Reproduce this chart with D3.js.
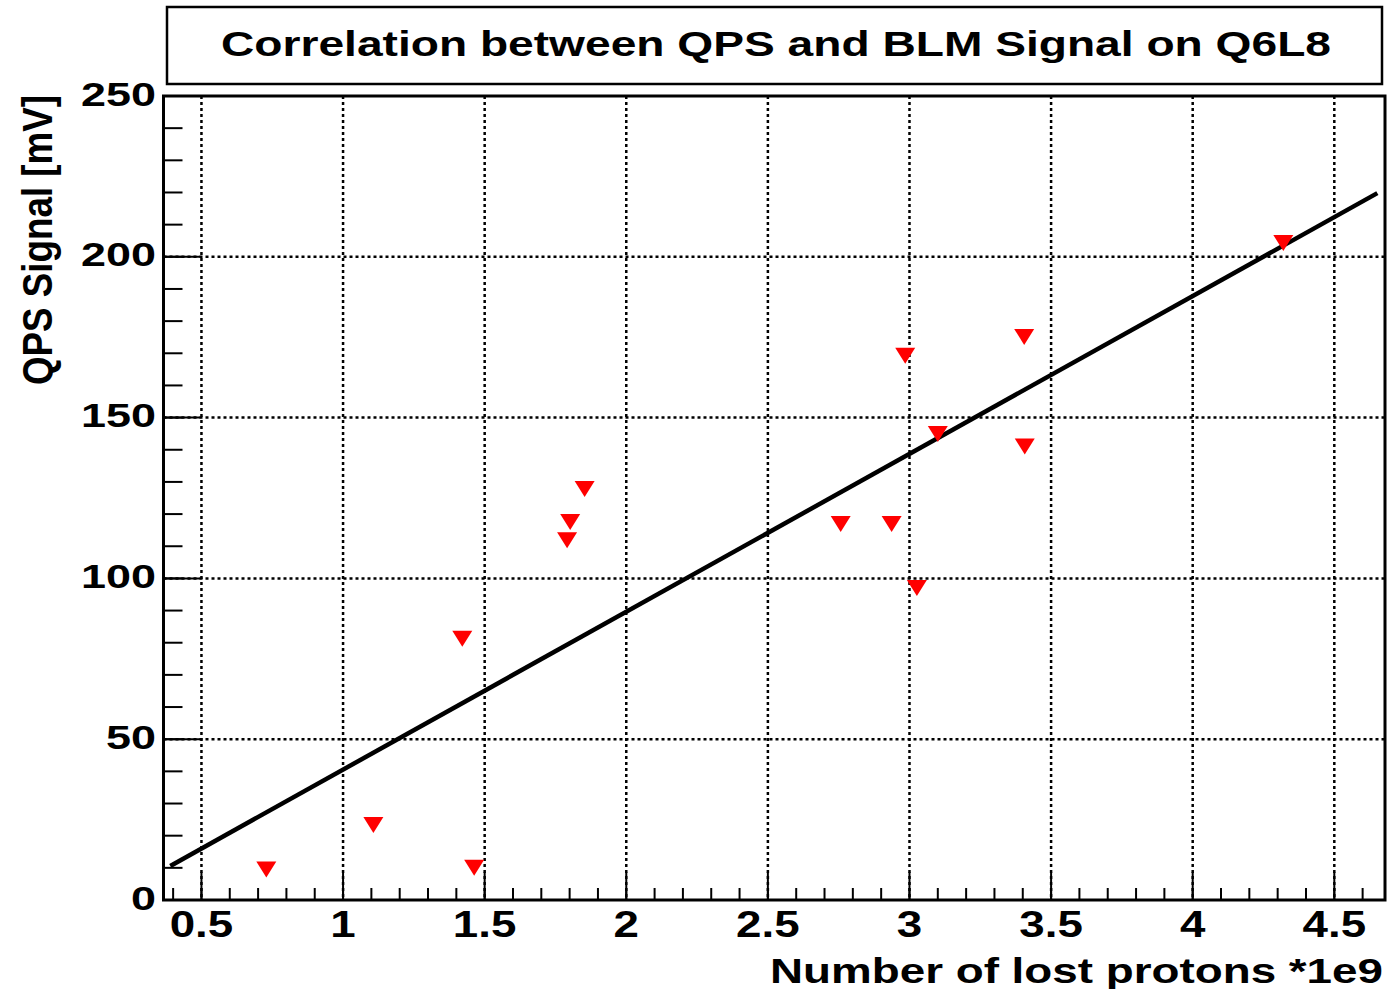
<!DOCTYPE html>
<html>
<head>
<meta charset="utf-8">
<script src="https://cdn.jsdelivr.net/npm/d3@7"></script>
<style>
  html, body { margin: 0; padding: 0; background: #fff; }
  svg { display: block; }
  text { font-family: "Liberation Sans", Arial, Helvetica, sans-serif; font-weight: bold; fill: #000; }
</style>
</head>
<body>
<svg id="chart" width="1388" height="989"></svg>
<script>
// ---- data ----
const lostProtons = [0.729, 1.107, 1.421, 1.463, 1.791, 1.802, 1.853, 2.757, 2.937, 2.985, 3.026, 3.100, 3.405, 3.407, 4.320];
const qpsSignal   = [9.5, 23.3, 81.2, 10.0, 111.9, 117.5, 127.8, 116.9, 116.9, 169.2, 97.0, 144.9, 175.1, 141.0, 204.3];
const fitX = [0.39, 4.652];
const fitY = [10.6, 219.8];
const xTicks = [0.5, 1, 1.5, 2, 2.5, 3, 3.5, 4, 4.5];
const xTickLabels = ["0.5", "1", "1.5", "2", "2.5", "3", "3.5", "4", "4.5"];
const yTicks = [0, 50, 100, 150, 200, 250];
const yTickLabels = ["0", "50", "100", "150", "200", "250"];
const titleText = "Correlation between QPS and BLM Signal on Q6L8";
const xTitle = "Number of lost protons *1e9";
const yTitle = "QPS Signal [mV]";

// ---- layout ----
const L = 163.5, R = 1385, T = 96, B = 900;
const svg = d3.select("#chart");
const x = d3.scaleLinear().domain([0.366, 4.679]).range([L, R]);
const y = d3.scaleLinear().domain([0, 250]).range([B, T]);

// title box
svg.append("rect").attr("x", 167).attr("y", 7).attr("width", 1215).attr("height", 77)
  .attr("fill", "#fff").attr("stroke", "#000").attr("stroke-width", 2.5);
svg.append("text").attr("x", 221).attr("y", 56).attr("font-size", 35)
  .attr("textLength", 1110).attr("lengthAdjust", "spacingAndGlyphs").text(titleText);

// grid
const g = svg.append("g");
const xMinor = d3.range(0.4, 4.65, 0.1).map(v => +v.toFixed(2));
const yMinor = d3.range(0, 251, 10);
g.selectAll(".vgrid").data(xTicks).enter().append("line")
  .attr("x1", d => x(d)).attr("x2", d => x(d)).attr("y1", T).attr("y2", B)
  .attr("stroke", "#000").attr("stroke-width", 2.5).attr("stroke-dasharray", "3,3");
g.selectAll(".hgrid").data(yTicks.filter(d => d > 0 && d < 250)).enter().append("line")
  .attr("x1", L).attr("x2", R).attr("y1", d => y(d)).attr("y2", d => y(d))
  .attr("stroke", "#000").attr("stroke-width", 2.5).attr("stroke-dasharray", "3,3");

// ticks
g.selectAll(".xminor").data(xMinor).enter().append("line")
  .attr("x1", d => x(d)).attr("x2", d => x(d)).attr("y1", B).attr("y2", B - 12)
  .attr("stroke", "#000").attr("stroke-width", 2);
g.selectAll(".xmajor").data(xTicks).enter().append("line")
  .attr("x1", d => x(d)).attr("x2", d => x(d)).attr("y1", B).attr("y2", B - 28)
  .attr("stroke", "#000").attr("stroke-width", 2);
g.selectAll(".yminor").data(yMinor).enter().append("line")
  .attr("x1", L).attr("x2", L + 19).attr("y1", d => y(d)).attr("y2", d => y(d))
  .attr("stroke", "#000").attr("stroke-width", 2);
g.selectAll(".ymajor").data(yTicks).enter().append("line")
  .attr("x1", L).attr("x2", L + 37).attr("y1", d => y(d)).attr("y2", d => y(d))
  .attr("stroke", "#000").attr("stroke-width", 2);

// frame
svg.append("rect").attr("x", L).attr("y", T).attr("width", R - L).attr("height", B - T)
  .attr("fill", "none").attr("stroke", "#000").attr("stroke-width", 3);

// fit line
svg.append("line")
  .attr("x1", x(fitX[0])).attr("y1", y(fitY[0])).attr("x2", x(fitX[1])).attr("y2", y(fitY[1]))
  .attr("stroke", "#000").attr("stroke-width", 4.5);

// markers (down triangles)
svg.selectAll(".pt").data(lostProtons).enter().append("path")
  .attr("d", "M-10,-8L10,-8L0,8Z")
  .attr("transform", (d, i) => `translate(${x(d)},${y(qpsSignal[i])})`)
  .attr("fill", "#ff0000");

// tick labels
function stretched(sel, factor) {
  sel.each(function() {
    const len = this.getComputedTextLength();
    d3.select(this).attr("textLength", len * factor).attr("lengthAdjust", "spacingAndGlyphs");
    this.__len = len * factor;
  });
}
const xl = svg.selectAll(".xl").data(xTicks).enter().append("text")
  .attr("font-size", 36).attr("y", 937).text((d, i) => xTickLabels[i]);
stretched(xl, 1.27);
xl.attr("x", function(d) { return x(d) - this.__len / 2; });

const yl = svg.selectAll(".yl").data(yTicks).enter().append("text")
  .attr("font-size", 33).attr("y", d => y(d) + 9.5).text((d, i) => yTickLabels[i]);
stretched(yl, 1.36);
yl.attr("x", function() { return 156 - this.__len; });

// axis titles
svg.append("text").attr("x", 1383 - 613).attr("y", 983).attr("font-size", 35)
  .attr("textLength", 613).attr("lengthAdjust", "spacingAndGlyphs").text(xTitle);
svg.append("text").attr("transform", "translate(52,385) rotate(-90) scale(1,1.3)")
  .attr("x", 0).attr("y", 0).attr("font-size", 33)
  .attr("textLength", 290).attr("lengthAdjust", "spacingAndGlyphs").text(yTitle);
</script>
</body>
</html>
